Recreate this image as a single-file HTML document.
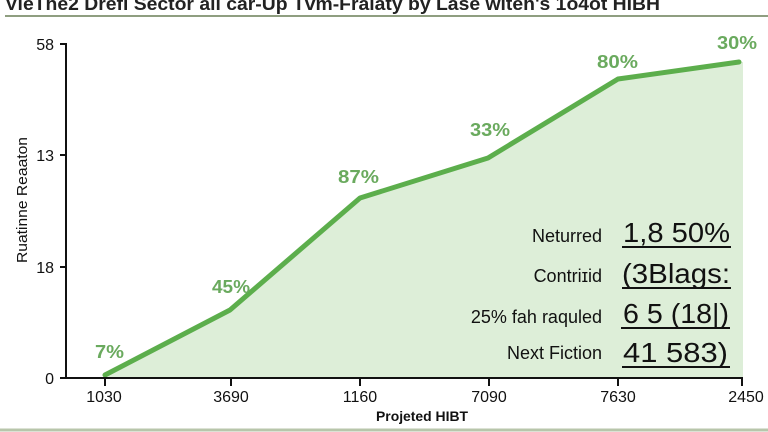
<!DOCTYPE html>
<html>
<head>
<meta charset="utf-8">
<style>
  html,body{margin:0;padding:0;background:#ffffff;}
  svg{display:block;}
  text{font-family:"Liberation Sans", sans-serif;}
</style>
</head>
<body>
<svg width="768" height="432" viewBox="0 0 768 432" xmlns="http://www.w3.org/2000/svg">
  <rect x="0" y="0" width="768" height="432" fill="#ffffff"/>
  <!-- Title -->
  <text x="5" y="10" font-size="18" font-weight="bold" fill="#222222" textLength="655" lengthAdjust="spacingAndGlyphs">VieThe2 Drefl Sector all car-Up Tvm-Fralaty by Lase witeh's 1o4ot HIBH</text>
  <line x1="5" y1="16" x2="768" y2="16" stroke="#8f9e80" stroke-width="2"/>

  <!-- Area fill -->
  <polygon points="105,375 230,310 360,198 488,158 618,79 739,62 743,62 743,378 105,378" fill="#ddeed8"/>
  <!-- Line -->
  <polyline points="105,375 230,310 360,198 488,158 618,79 739,62" fill="none" stroke="#5cae4c" stroke-width="5" stroke-linejoin="round" stroke-linecap="round"/>

  <!-- Axes -->
  <line x1="66" y1="43" x2="66" y2="379" stroke="#111" stroke-width="2"/>
  <line x1="60" y1="378" x2="743" y2="378" stroke="#111" stroke-width="2"/>
  <g stroke="#111" stroke-width="2">
    <line x1="60" y1="44" x2="66" y2="44"/>
    <line x1="60" y1="155" x2="66" y2="155"/>
    <line x1="60" y1="267" x2="66" y2="267"/>
    <line x1="105" y1="378" x2="105" y2="386"/>
    <line x1="231" y1="378" x2="231" y2="386"/>
    <line x1="360" y1="378" x2="360" y2="386"/>
    <line x1="489" y1="378" x2="489" y2="386"/>
    <line x1="618" y1="378" x2="618" y2="386"/>
    <line x1="742" y1="378" x2="742" y2="386"/>
  </g>

  <!-- Y tick labels -->
  <g font-size="16" fill="#111" text-anchor="end">
    <text x="54" y="50">58</text>
    <text x="54" y="161">13</text>
    <text x="54" y="273">18</text>
    <text x="54" y="384">0</text>
  </g>
  <!-- Y axis label -->
  <text transform="translate(27,200) rotate(-90)" font-size="15" fill="#111" text-anchor="middle" textLength="126" lengthAdjust="spacingAndGlyphs">Ruatinne Reaaton</text>

  <!-- X tick labels -->
  <g font-size="16" fill="#111" text-anchor="middle">
    <text x="104" y="402">1030</text>
    <text x="231" y="402">3690</text>
    <text x="360" y="402">1160</text>
    <text x="489" y="402">7090</text>
    <text x="618" y="402">7630</text>
    <text x="746" y="402">2450</text>
  </g>
  <text x="376" y="421" font-size="14" font-weight="bold" fill="#111" textLength="92" lengthAdjust="spacingAndGlyphs">Projeted HIBT</text>

  <!-- Data labels -->
  <g font-size="18" font-weight="bold" fill="#6aaa5e">
    <text x="95" y="358" textLength="29" lengthAdjust="spacingAndGlyphs">7%</text>
    <text x="212" y="293" textLength="38" lengthAdjust="spacingAndGlyphs">45%</text>
    <text x="338" y="183" textLength="41" lengthAdjust="spacingAndGlyphs">87%</text>
    <text x="470" y="136" textLength="40" lengthAdjust="spacingAndGlyphs">33%</text>
    <text x="597" y="68" textLength="41" lengthAdjust="spacingAndGlyphs">80%</text>
    <text x="717" y="49" textLength="40" lengthAdjust="spacingAndGlyphs">30%</text>
  </g>

  <!-- Legend / stats -->
  <g font-size="18" fill="#111" text-anchor="end">
    <text x="602" y="242">Neturred</text>
    <text x="602" y="282">Contriɪid</text>
    <text x="602" y="323">25% fah raquled</text>
    <text x="602" y="359">Next Fiction</text>
  </g>
  <g font-size="28" fill="#111">
    <text x="623" y="242" textLength="107" lengthAdjust="spacingAndGlyphs">1,8 50%</text>
    <text x="622" y="283" textLength="108" lengthAdjust="spacingAndGlyphs">(3Blags:</text>
    <text x="623" y="323" textLength="106" lengthAdjust="spacingAndGlyphs">6 5 (18|)</text>
    <text x="623" y="362" textLength="105" lengthAdjust="spacingAndGlyphs">41  583)</text>
  </g>
  <g stroke="#111" stroke-width="2">
    <line x1="622" y1="247" x2="731" y2="247"/>
    <line x1="622" y1="288" x2="731" y2="288"/>
    <line x1="621" y1="328" x2="730" y2="328"/>
    <line x1="622" y1="367" x2="730" y2="367"/>
  </g>

  <!-- Bottom separator -->
  <line x1="0" y1="430" x2="768" y2="430" stroke="#b8c6ab" stroke-width="3"/>
</svg>
</body>
</html>
